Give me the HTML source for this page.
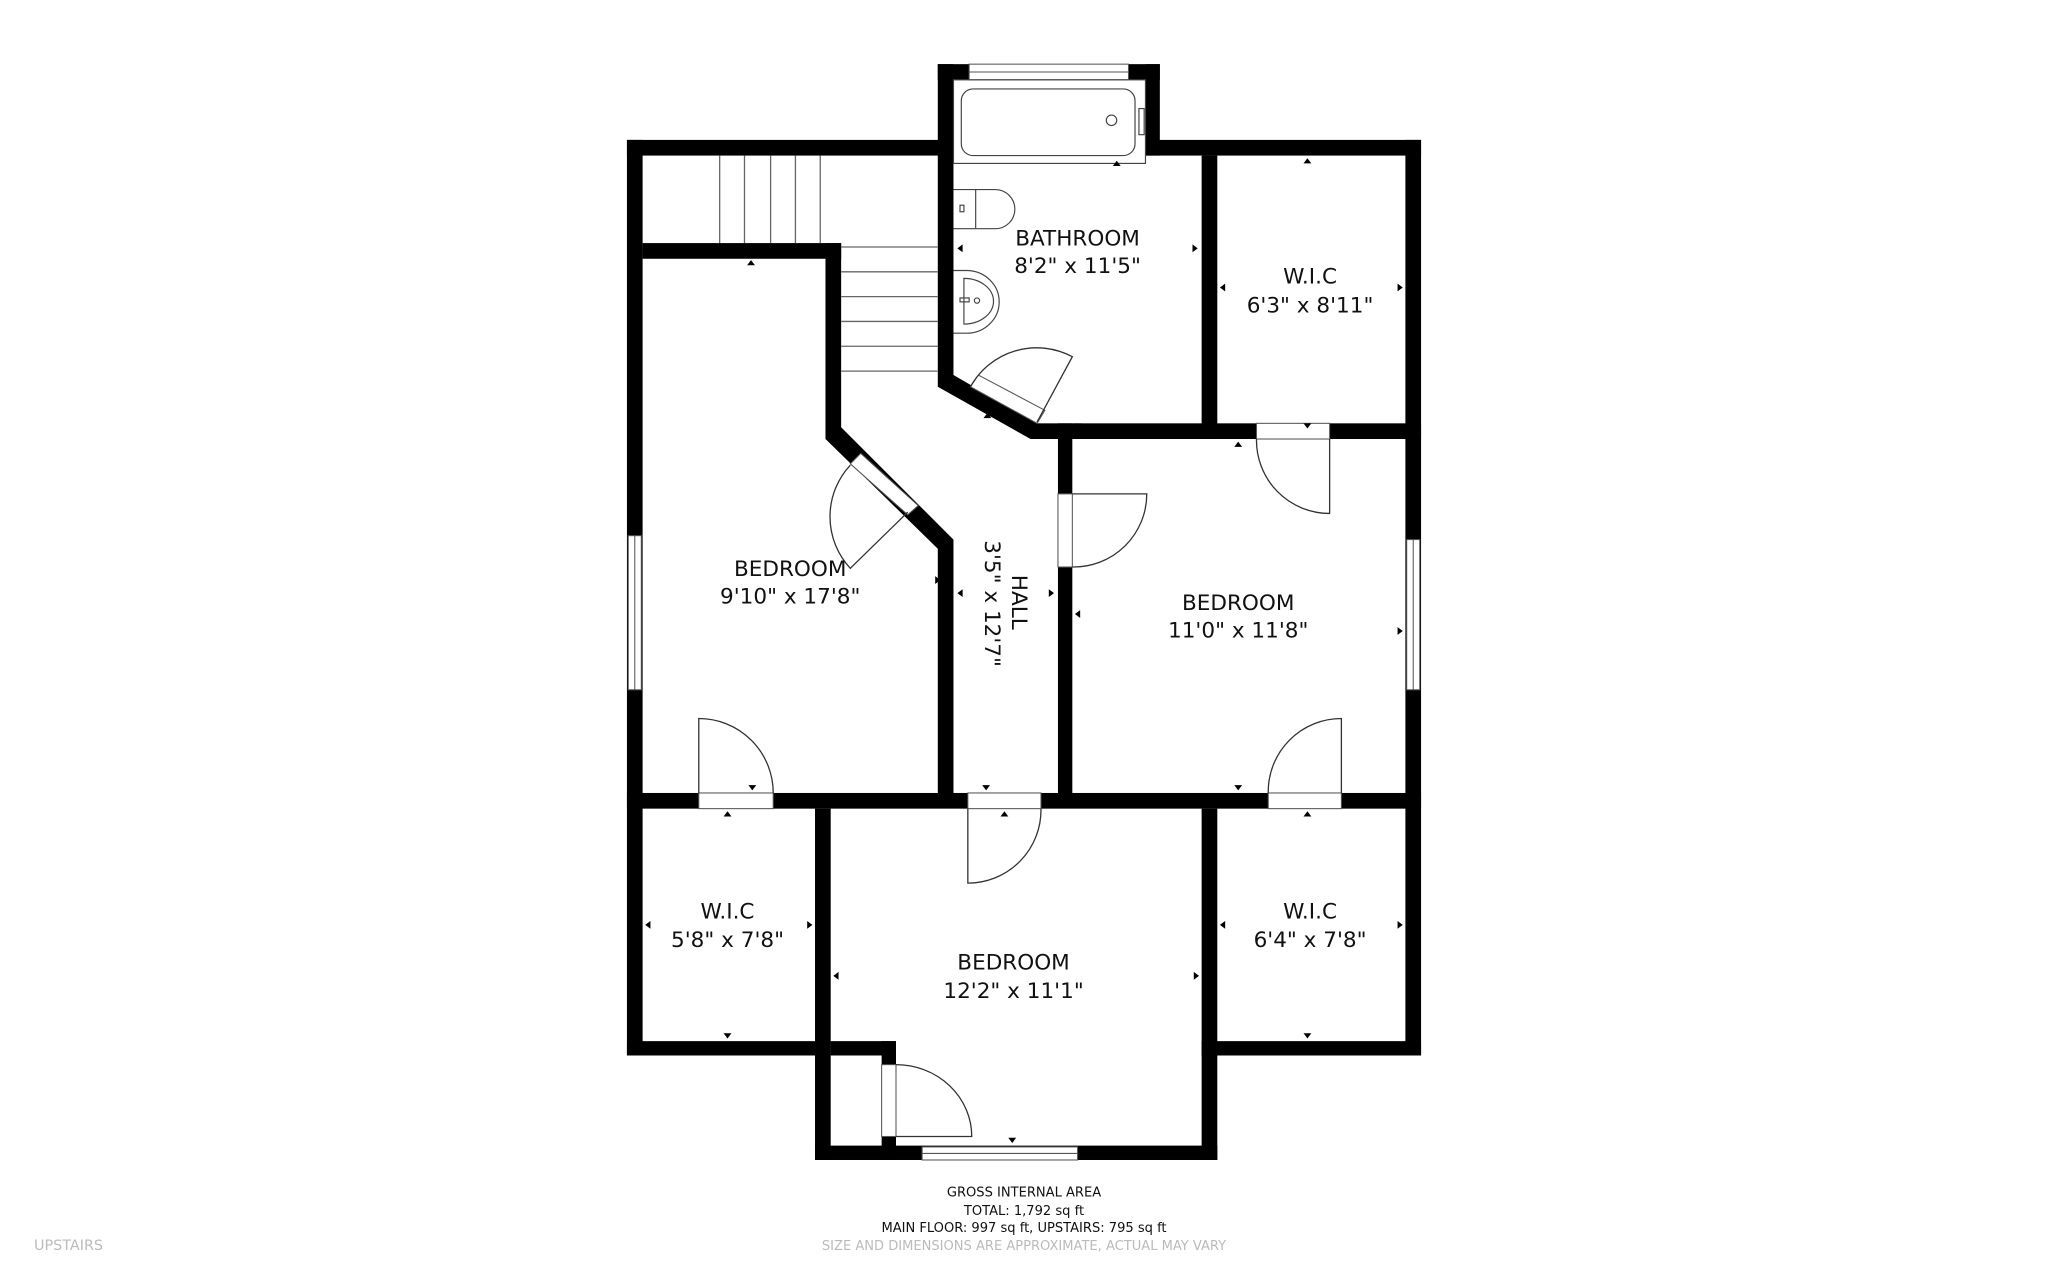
<!DOCTYPE html>
<html><head><meta charset="utf-8"><style>
html,body{margin:0;padding:0;background:#fff;width:2048px;height:1279px;overflow:hidden}
svg{display:block}
text{font-family:"DejaVu Sans","Liberation Sans",sans-serif;fill:#111}
</style></head><body>
<svg width="2048" height="1279" viewBox="0 0 1568 979" xmlns="http://www.w3.org/2000/svg">
<rect width="1568" height="979" fill="#fff"/>
<g fill="#000">
<rect x="480" y="107" width="250" height="12"/>
<rect x="480" y="107" width="12" height="701"/>
<rect x="492" y="186" width="152" height="12"/>
<polygon points="632,186 644,186 644,327 730,413 730,608 718,608 718,420 632,336"/>
<rect x="718" y="49" width="24" height="12"/>
<rect x="864" y="49" width="24" height="12"/>
<rect x="877" y="49" width="11" height="70"/>
<polygon points="718,49 730,49 730,287 794,324 789,336 718,296"/>
<rect x="877" y="107" width="211" height="12"/>
<rect x="920" y="119" width="12" height="217"/>
<rect x="1076" y="107" width="12" height="701"/>
<rect x="789" y="324" width="299" height="12"/>
<rect x="810" y="324" width="11" height="284"/>
<rect x="480" y="607" width="608" height="12"/>
<rect x="624" y="619" width="12" height="269"/>
<rect x="480" y="797" width="156" height="11"/>
<rect x="636" y="797" width="50" height="11"/>
<rect x="675" y="797" width="11" height="18"/>
<rect x="675" y="870" width="11" height="18"/>
<rect x="920" y="619" width="12" height="269"/>
<rect x="920" y="797" width="168" height="11"/>
<rect x="624" y="877" width="308" height="11"/>
</g>
<g fill="#fff" stroke="#555" stroke-width="0.8">
<rect x="742" y="49" width="122" height="12"/>
<line x1="742" y1="55" x2="864" y2="55"/>
<rect x="481" y="410" width="10" height="118"/>
<line x1="486" y1="410" x2="486" y2="528"/>
<rect x="1077" y="413" width="10" height="115"/>
<line x1="1082" y1="413" x2="1082" y2="528"/>
<rect x="706" y="878" width="119" height="10"/>
<line x1="706" y1="883" x2="825" y2="883"/>
<rect x="535" y="607" width="57" height="12"/>
<rect x="741" y="607" width="56" height="12"/>
<rect x="971" y="607" width="56" height="12"/>
<rect x="962" y="324" width="56" height="12"/>
<rect x="810" y="378" width="11" height="56"/>
<rect x="675" y="815" width="11" height="55"/>
<polygon points="651,355 659,347 703,387 695,394"/>
<polygon points="743,296 749,287 800,314 794,324"/>
</g>
<g fill="none" stroke="#333" stroke-width="1">
<path d="M535,607 V550 A57,57 0 0 1 592,607"/>
<path d="M741,619 V676 A56,56 0 0 0 797,619"/>
<path d="M1027,607 V550 A56,56 0 0 0 971,607"/>
<path d="M1018,336 V393 A56,56 0 0 1 962,336"/>
<path d="M821,378 H878 A56,56 0 0 1 821,434"/>
<path d="M686,815 A58,55 0 0 1 744,870 H686"/>
<path d="M695,392 L651,435 A58,58 0 0 1 651,356"/>
<path d="M794,323 L821,273 A58,58 0 0 0 743,296"/>
</g>
<g stroke="#666" stroke-width="1">
<line x1="551" y1="119" x2="551" y2="186"/><line x1="570" y1="119" x2="570" y2="186"/>
<line x1="590" y1="119" x2="590" y2="186"/><line x1="609" y1="119" x2="609" y2="186"/>
<line x1="628" y1="119" x2="628" y2="186"/>
<line x1="644" y1="189" x2="718" y2="189"/><line x1="644" y1="208" x2="718" y2="208"/>
<line x1="644" y1="227" x2="718" y2="227"/><line x1="644" y1="246" x2="718" y2="246"/>
<line x1="644" y1="265" x2="718" y2="265"/><line x1="644" y1="284" x2="718" y2="284"/>
</g>
<g fill="none" stroke="#444" stroke-width="0.9">
<rect x="730" y="61" width="147" height="64"/>
<rect x="736" y="68" width="133" height="51" rx="9"/>
<circle cx="851" cy="92" r="4"/>
<rect x="872" y="83" width="4" height="20"/>
<path d="M730,145 H762 A15,15 0 0 1 762,175 H730"/>
<line x1="747" y1="145" x2="747" y2="175"/>
<rect x="735" y="157" width="3" height="5"/>
<path d="M730,207 H740 A25,24 0 0 1 740,255 H730"/>
<path d="M738,213 A22,17 0 0 1 738,248 Z"/>
<rect x="735" y="228" width="7" height="3"/>
<circle cx="748" cy="230" r="2"/>
</g>
<g fill="#000">
<polygon points="1001,121 998,125 1004,125"/><polygon points="1001,328 998,324 1004,324"/>
<polygon points="934,220 938,217 938,223"/><polygon points="1074,220 1070,217 1070,223"/>
<polygon points="733,190 737,187 737,193"/><polygon points="917,190 913,187 913,193"/>
<polygon points="575,199 572,203 578,203"/><polygon points="825,328 822,324 828,324"/>
<polygon points="948,338 945,342 951,342"/><polygon points="720,444 716,441 716,447"/>
<polygon points="733,454 737,451 737,457"/><polygon points="807,454 803,451 803,457"/>
<polygon points="823,470 827,467 827,473"/><polygon points="1074,483 1070,480 1070,486"/>
<polygon points="948,605 945,601 951,601"/><polygon points="755,605 752,601 758,601"/>
<polygon points="576,605 573,601 579,601"/><polygon points="557,621 554,625 560,625"/>
<polygon points="769,621 766,625 772,625"/><polygon points="1001,621 998,625 1004,625"/>
<polygon points="494,708 498,705 498,711"/><polygon points="622,708 618,705 618,711"/>
<polygon points="557,795 554,791 560,791"/><polygon points="638,747 642,744 642,750"/>
<polygon points="918,747 914,744 914,750"/><polygon points="934,708 938,705 938,711"/>
<polygon points="1074,708 1070,705 1070,711"/><polygon points="1001,795 998,791 1004,791"/>
<polygon points="855,123 852,127 858,127"/><polygon points="775,875 772,871 778,871"/>
<polygon points="756,316 753,320 759,320"/>
</g>
<g font-size="16.5" text-anchor="middle">
<text x="825" y="188">BATHROOM</text><text x="825" y="209">8'2" x 11'5"</text>
<text x="1003" y="217">W.I.C</text><text x="1003" y="239">6'3" x 8'11"</text>
<text x="605" y="441">BEDROOM</text><text x="605" y="462">9'10" x 17'8"</text>
<text x="948" y="467">BEDROOM</text><text x="948" y="488">11'0" x 11'8"</text>
<text x="557" y="703">W.I.C</text><text x="557" y="725">5'8" x 7'8"</text>
<text x="1003" y="703">W.I.C</text><text x="1003" y="725">6'4" x 7'8"</text>
<text x="776" y="742">BEDROOM</text><text x="776" y="764">12'2" x 11'1"</text>
<text transform="translate(775,461) rotate(90)">HALL</text>
<text transform="translate(754,462) rotate(90)">3'5" x 12'7"</text>
</g>
<g font-size="10" text-anchor="middle" font-family="Liberation Sans">
<text x="784" y="916">GROSS INTERNAL AREA</text>
<text x="784" y="930">TOTAL: 1,792 sq ft</text>
<text x="784" y="943">MAIN FLOOR: 997 sq ft, UPSTAIRS: 795 sq ft</text>
<text x="784" y="957" style="fill:#bbb">SIZE AND DIMENSIONS ARE APPROXIMATE, ACTUAL MAY VARY</text>
</g>
<text x="26" y="957" font-size="11" style="fill:#bbb" font-family="Liberation Sans">UPSTAIRS</text>
</svg>
</body></html>
